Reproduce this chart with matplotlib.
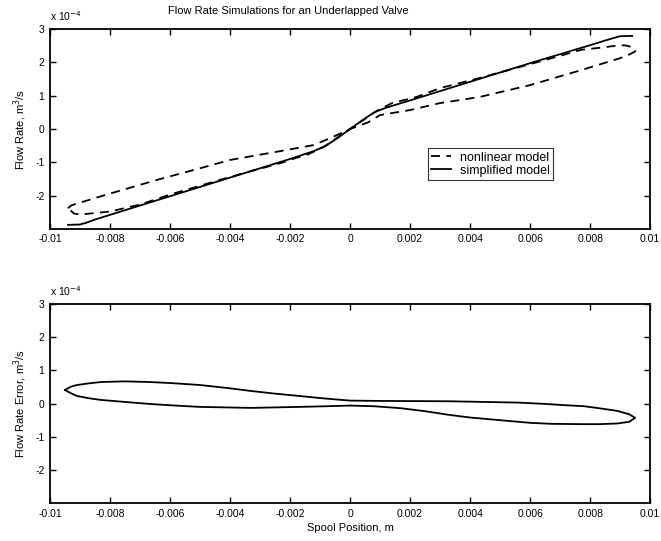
import matplotlib
matplotlib.use('Agg')
import matplotlib.pyplot as plt
from matplotlib.ticker import FixedLocator, FuncFormatter


# spool position (m) and flow rate (units of 1e-4 m^3/s)
simplified_x = [-0.0094, -0.009, -0.0088, -0.0085, -0.008, -0.007, -0.006, -0.004,
                -0.002, -0.0012, -0.0008, -0.0004, 0.0, 0.0004, 0.0008, 0.0012,
                0.002, 0.004, 0.006, 0.008, 0.0085, 0.0088, 0.009, 0.0094]
simplified_q = [-2.88, -2.87, -2.82, -2.72, -2.58, -2.30, -2.02, -1.46,
                -0.90, -0.66, -0.50, -0.26, 0.0, 0.26, 0.50, 0.64,
                0.86, 1.42, 1.98, 2.52, 2.66, 2.74, 2.79, 2.80]

# nonlinear model traces a loop: branch going right, then branch coming back
nonlin_up_x = [-0.0094, -0.0093, -0.0091, -0.008, -0.0064, -0.005, -0.004, -0.0023,
               -0.0012, -0.0006, 0.0, 0.0006, 0.001, 0.002, 0.003, 0.0043,
               0.006, 0.0077, 0.009, 0.0093, 0.0095]
nonlin_up_q = [-2.38, -2.30, -2.24, -1.94, -1.52, -1.18, -0.93, -0.66,
               -0.48, -0.25, 0.0, 0.20, 0.42, 0.57, 0.78, 0.96,
               1.32, 1.77, 2.13, 2.24, 2.33]
nonlin_down_x = [0.0095, 0.0094, 0.0092, 0.009, 0.0084, 0.0077, 0.007, 0.006,
                 0.0043, 0.003, 0.0022, 0.0014, 0.0009, 0.0, -0.0009, -0.0014,
                 -0.0018, -0.0023, -0.004, -0.006, -0.007, -0.008, -0.009,
                 -0.0092, -0.0094]
nonlin_down_q = [2.40, 2.46, 2.51, 2.52, 2.45, 2.38, 2.20, 1.95,
                 1.53, 1.23, 0.96, 0.78, 0.55, 0.0, -0.55, -0.76,
                 -0.87, -1.02, -1.44, -1.97, -2.27, -2.48, -2.57,
                 -2.54, -2.38]

# flow rate error loop (units of 1e-4 m^3/s)
err_up_x = [-0.0095, -0.0093, -0.0091, -0.0087, -0.0083, -0.0075, -0.0067, -0.006,
            -0.005, -0.004, -0.0033, -0.0025, -0.0017, -0.0008, 0.0, 0.001,
            0.0033, 0.0056, 0.0065, 0.0072, 0.0078, 0.0083, 0.0089, 0.0093, 0.0095]
err_up_q = [0.41, 0.51, 0.56, 0.61, 0.65, 0.67, 0.65, 0.62,
            0.56, 0.46, 0.38, 0.30, 0.23, 0.15, 0.09, 0.08,
            0.07, 0.03, -0.01, -0.05, -0.08, -0.14, -0.22, -0.32, -0.43]
err_down_x = [0.0093, 0.0089, 0.0083, 0.0078, 0.0067, 0.006, 0.005, 0.004,
              0.0033, 0.0025, 0.0017, 0.0008, 0.0, -0.0008, -0.0017, -0.0033,
              -0.005, -0.006, -0.0067, -0.0075, -0.0083, -0.0087, -0.0091, -0.0093, -0.0095]
err_down_q = [-0.55, -0.60, -0.62, -0.62, -0.61, -0.58, -0.50, -0.42,
              -0.34, -0.23, -0.14, -0.08, -0.06, -0.08, -0.10, -0.13,
              -0.10, -0.05, -0.01, 0.05, 0.11, 0.16, 0.23, 0.31, 0.41]

x_ticks = [-0.01, -0.008, -0.006, -0.004, -0.002, 0, 0.002, 0.004, 0.006, 0.008, 0.01]
y_ticks = [-2, -1, 0, 1, 2, 3]

plt.rcParams['font.family'] = ['Liberation Sans', 'DejaVu Sans']
plt.rcParams['axes.unicode_minus'] = False


def style_axes(ax):
    ax.set_xlim(-0.01, 0.01)
    ax.set_ylim(-3, 3)
    ax.xaxis.set_major_locator(FixedLocator(x_ticks))
    ax.yaxis.set_major_locator(FixedLocator(y_ticks))
    ax.xaxis.set_major_formatter(FuncFormatter(lambda v, p: '%g' % round(v, 4)))
    ax.yaxis.set_major_formatter(FuncFormatter(lambda v, p: '%g' % v))
    ax.tick_params(direction='in', top=True, right=True, length=4, width=1,
                   labelsize=7.5, pad=4)
    for s in ax.spines.values():
        s.set_linewidth(1.3)
    ax.text(0.0, 1.03, r'x 10$^{-4}$', transform=ax.transAxes, fontsize=7.5,
            ha='left', va='bottom')


fig = plt.figure(figsize=(6.61, 5.41), dpi=100)
ax1 = fig.add_axes([0.0756, 0.577, 0.908, 0.369])
ax2 = fig.add_axes([0.0756, 0.070, 0.908, 0.368])

dash = (0, (5, 3.5))
nl_x = nonlin_up_x + nonlin_down_x
nl_q = nonlin_up_q + nonlin_down_q
ax1.plot(nl_x, nl_q, color='black', lw=1.3, linestyle=dash, label='nonlinear model')
ax1.plot(simplified_x, simplified_q, color='black', lw=1.3, label='simplified model')
style_axes(ax1)
ax1.set_ylabel('Flow Rate, m$^3$/s', fontsize=8, labelpad=4)
leg = ax1.legend(loc='lower left', bbox_to_anchor=(0.63, 0.245), fontsize=9,
                 frameon=True, fancybox=False, handlelength=1.6, borderpad=0.25,
                 labelspacing=0.1, handletextpad=0.7, borderaxespad=0)
leg.get_frame().set_edgecolor('black')
leg.get_frame().set_linewidth(0.8)

ax2.plot(err_up_x + err_down_x, err_up_q + err_down_q, color='black', lw=1.3)
style_axes(ax2)
ax2.set_ylabel('Flow Rate Error, m$^3$/s', fontsize=8, labelpad=4)
ax2.set_xlabel('Spool Position, m', fontsize=8, labelpad=3)

fig.text(0.436, 0.980, 'Flow Rate Simulations for an Underlapped Valve',
         fontsize=8, ha='center', va='center')

fig.savefig('out.png', dpi=100)
